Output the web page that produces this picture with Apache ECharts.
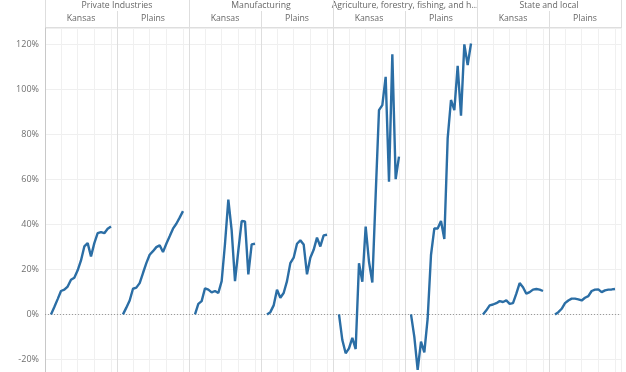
<!DOCTYPE html>
<html><head><meta charset="utf-8">
<script src="https://cdn.jsdelivr.net/npm/echarts@6/dist/echarts.min.js"></script>
<style>html,body{margin:0;padding:0;background:#fff}#c{width:626px;height:372px}</style>
</head><body><div id="c"></div>
<script>
const years = [1997,1998,1999,2000,2001,2002,2003,2004,2005,2006,2007,2008,2009,2010,2011,2012,2013,2014,2015];
const industries = ['Private Industries','Manufacturing','Agriculture, forestry, fishing, and h...','State and local'];
const regions = ['Kansas','Plains'];
const yTickLabels = [-20,0,20,40,60,80,100,120];

const privateKansas   = [0,3.3,6.8,10.4,11,12.4,15.4,16.3,19.6,24,30.2,31.7,25.8,31.7,36.1,36.6,36.1,38.1,39.1];
const privatePlains   = [0,3,6.2,11.4,11.9,13.9,18.4,22.8,26.5,28.1,29.9,30.7,27.7,31.4,34.7,38.1,40.3,43,45.9];
const manufKansas     = [0,4.7,5.9,11.6,11,9.8,10.4,9.5,14.8,31.4,51,37.3,14.8,28.4,41.5,41.3,17.8,31.1,31.4];
const manufPlains     = [0,1,4,11,7.4,9.5,14.8,22.8,25.2,31.4,32.9,31.1,17.8,25.2,28.7,34.1,30.2,35.1,35.4];
const agriKansas      = [0,-11.4,-17.3,-15.1,-10.4,-15.4,22.7,14.5,39,23.4,14.2,53,90.8,93,105.6,59,115.6,60.1,70.1];
const agriPlains      = [0,-10,-24.7,-12.1,-16.9,-1.8,26.4,38.2,38.2,41.5,33.5,78.2,95.3,90.8,110.5,88.3,120,110.8,120.4];
const stateKansas     = [0,1.8,4,4.4,5,5.9,5.5,6.2,4.7,5,9.2,13.9,12.1,9.2,9.9,11,11.3,11,10.4];
const statePlains     = [0,1,2.5,5,6.2,7,7,6.7,6.2,7.4,8.1,10.4,11,11.1,9.9,10.7,11,11.1,11.3];

const panels = [privateKansas, privatePlains, manufKansas, manufPlains, agriKansas, agriPlains, stateKansas, statePlains];

const FONT = 'Open Sans';
const L0 = 45, PW = 72, TOP = 28;
const lineColor = '#2b6ea5';
const grids = [], xAxes = [], yAxes = [], series = [];

panels.forEach((vals, i) => {
  grids.push({left: L0 + PW * i, width: PW, top: TOP, bottom: 0, containLabel: false});
  xAxes.push({
    type: 'value', gridIndex: i, min: 1995.2, max: 2016.8,
    axisLine: {show: false}, axisTick: {show: false}, axisLabel: {show: false},
    splitLine: {show: true, lineStyle: {color: '#f0f0f0', width: 1}}
  });
  yAxes.push({
    type: 'value', gridIndex: i, min: -25.6, max: 127.3, splitNumber: 7,
    axisLine: {show: true, lineStyle: {color: i === 0 ? '#c8c8c8' : '#dedede', width: 1}},
    axisTick: {show: false},
    axisLabel: {
      show: i === 0, showMinLabel: false, showMaxLabel: false,
      fontFamily: FONT, fontSize: 9, color: '#707070', margin: 6,
      formatter: v => yTickLabels.includes(Math.round(v)) ? Math.round(v) + '%' : ''
    },
    splitLine: {show: true, lineStyle: {color: '#efefef', width: 1}}
  });
  series.push({
    type: 'line', xAxisIndex: i, yAxisIndex: i,
    data: years.map((y, j) => [y, vals[j]]),
    showSymbol: false, symbol: 'none',
    lineStyle: {color: lineColor, width: 2.4},
    itemStyle: {color: lineColor},
    z: 3,
    markLine: {
      silent: true, symbol: 'none', label: {show: false},
      lineStyle: {color: '#9a9a9a', type: [1, 2], width: 1},
      data: [{yAxis: 0}], z: 2
    }
  });
});

const headFont = '8.7px "' + FONT + '"';
const headerTexts = [];
industries.forEach((name, g) => {
  headerTexts.push({type: 'text', style: {text: name, x: L0 + PW * (2 * g + 1), y: 6, align: 'center', verticalAlign: 'middle',
    font: headFont, fill: '#666'}});
  regions.forEach((r, k) => {
    headerTexts.push({type: 'text', style: {text: r, x: L0 + PW * (2 * g + k) + PW / 2, y: 19, align: 'center', verticalAlign: 'middle',
      font: headFont, fill: '#666'}});
  });
});
const sep = [];
for (let k = 0; k <= 8; k++) {
  const x = L0 + PW * k + 0.5;
  sep.push({type: 'line', shape: {x1: x, y1: k % 2 === 0 ? 0 : 11, x2: x, y2: TOP}, style: {stroke: '#dedede', lineWidth: 1}});
}
sep.push({type: 'line', shape: {x1: L0, y1: TOP - 0.5, x2: L0 + PW * 8, y2: TOP - 0.5}, style: {stroke: '#dedede', lineWidth: 1}});

const chart = echarts.init(document.getElementById('c'), null, {renderer: 'canvas'});
chart.setOption({
  animation: false,
  backgroundColor: '#fff',
  grid: grids, xAxis: xAxes, yAxis: yAxes, series: series,
  graphic: {elements: headerTexts.concat(sep)}
});
</script></body></html>
